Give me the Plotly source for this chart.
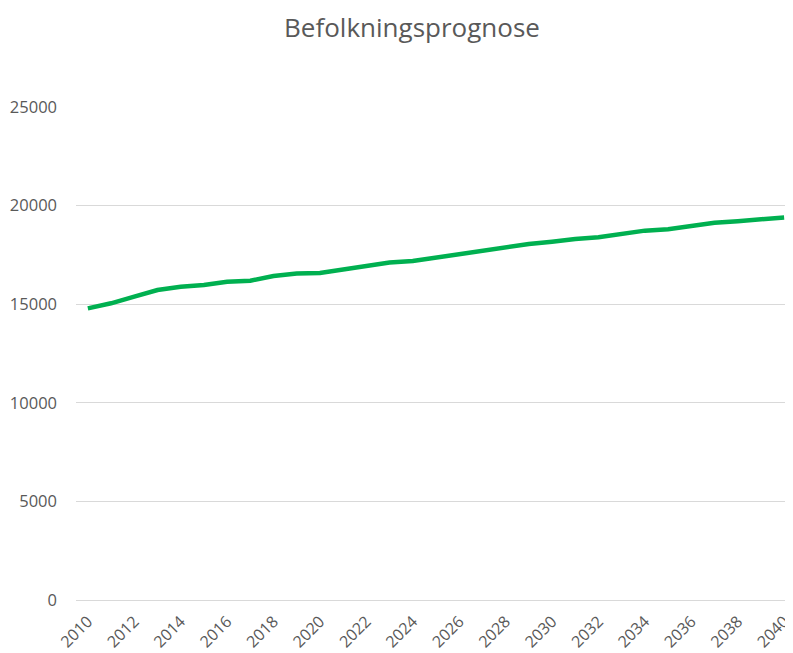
import plotly.graph_objects as go

years = list(range(2010, 2041))
population = [
    14790, 15045, 15380, 15720, 15890, 15970, 16140, 16190, 16430, 16560,
    16580, 16770, 16970, 17110, 17190, 17360, 17550, 17710, 17880, 18050,
    18170, 18310, 18390, 18560, 18730, 18800, 18970, 19130, 19210, 19330,
    19400,
]
x_ticks = list(range(2010, 2041, 2))
y_ticks = [0, 5000, 10000, 15000, 20000, 25000]

font_color = "#595959"
grid_color = "#d9d9d9"

# the page body has an 8px margin, so the figure is sized to the visible area
fig_w = 785
fig_h = 645

fig = go.Figure()
fig.add_trace(
    go.Scatter(
        x=years,
        y=population,
        mode="lines",
        line=dict(color="#00b050", width=4.5),
        showlegend=False,
    )
)

fig.update_layout(
    width=fig_w,
    height=fig_h,
    margin=dict(l=68, r=0, t=99, b=53),
    paper_bgcolor="white",
    plot_bgcolor="white",
    font=dict(family="Open Sans", color=font_color, size=16),
    title=dict(
        text="Befolkningsprognose",
        x=404 / fig_w,
        xref="container",
        xanchor="center",
        y=1 - 20 / fig_h,
        yref="container",
        yanchor="middle",
        font=dict(family="Open Sans", size=26, color=font_color),
    ),
)
fig.update_xaxes(
    range=[2009.49, 2040.21],
    tickvals=x_ticks,
    ticktext=[str(v) for v in x_ticks],
    tickangle=-45,
    ticklabeloverflow="allow",
    ticklabelstandoff=8,
    showgrid=False,
    zeroline=False,
    showline=False,
    ticks="",
    tickfont=dict(size=16),
)
fig.update_yaxes(
    range=[0, 25000],
    tickvals=y_ticks,
    ticktext=[str(v) for v in y_ticks],
    showgrid=True,
    gridcolor=grid_color,
    gridwidth=1,
    zeroline=True,
    zerolinecolor=grid_color,
    zerolinewidth=1,
    showline=False,
    ticks="",
    ticklabelstandoff=18,
    tickfont=dict(size=16.5),
)

fig.write_html("out.html")
